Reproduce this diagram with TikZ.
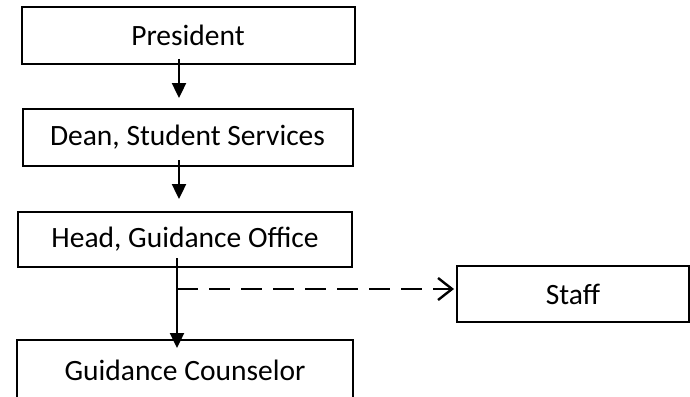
\documentclass[tikz,border=0pt]{standalone}
\usepackage{fontspec}
\setmainfont{Carlito}
\usetikzlibrary{arrows.meta,calc}
\begin{document}
\begin{tikzpicture}[x=1pt,y=-1pt,
  orgbox/.style={draw,line width=2pt,minimum height=56pt,inner sep=0pt,
    font=\fontsize{29.5}{34}\selectfont},
  solidarrow/.style={line width=2.4pt,-{Triangle[length=15pt,width=14pt]}},
  dasharrow/.style={line width=2.4pt,dash pattern=on 21pt off 11pt,
    -{Straight Barb[length=14pt,width=22pt,line width=2.4pt]}}]
\useasboundingbox (0,0) rectangle (690,396);

% the chain of offices
\node[orgbox,minimum width=333pt] (president) at (188,35.5) {President};
\node[orgbox,minimum width=330pt,minimum height=57pt] (dean) at (187.5,137.5) {Dean, Student Services};
\node[orgbox,minimum width=334pt,minimum height=55pt] (head) at (185,239.5) {Head, Guidance Office};
\node[orgbox,minimum width=336pt,minimum height=60pt] (counselor) at (185,370) {Guidance Counselor};
\node[orgbox,minimum width=232pt] (staff) at (573,294) {Staff};

% vertical spines of the reporting lines
\coordinate (upper) at (179,0);
\coordinate (lower) at (177,0);

% reporting lines
\draw[solidarrow] ([yshift=5.5pt]president.south -| upper) -- ([yshift=10pt]dean.north -| upper);
\draw[solidarrow] ([yshift=7pt]dean.south -| upper) -- ([yshift=12pt]head.north -| upper);
\draw[solidarrow] ([yshift=10pt]head.south -| lower) coordinate (branch) -- ([yshift=-9pt]counselor.north -| lower);
\coordinate (split) at ($(branch)+(0,31)$);
\draw[dasharrow] (split) -- ([xshift=-2pt]split -| staff.west);
\end{tikzpicture}
\end{document}
